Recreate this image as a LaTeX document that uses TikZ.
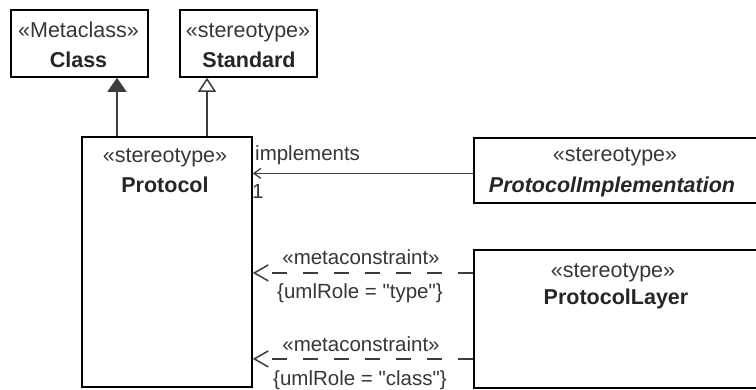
\documentclass[tikz,border=0pt]{standalone}
\usepackage{fontspec}
\setmainfont{Liberation Sans}[Ligatures=TeXOff]
\usetikzlibrary{arrows.meta}
\definecolor{stc}{RGB}{55,55,55}
\definecolor{lnc}{RGB}{60,60,60}
\begin{document}
\begin{tikzpicture}[x=1pt,y=-1pt,
  box/.style={draw=black, line width=1.8pt, fill=white, inner sep=0pt, anchor=north west},
  st/.style={anchor=base, text=stc, font=\fontsize{21.5}{25}\selectfont, inner sep=0pt},
  nm/.style={anchor=base, text=black!85, font=\fontsize{21.5}{25}\selectfont\bfseries, inner sep=0pt},
  lbl/.style={anchor=base, text=stc, font=\fontsize{20.5}{24}\selectfont, inner sep=0pt},
  conn/.style={draw=lnc, line width=1.5pt},
  genfill/.style={conn, -{Triangle[width=19pt,length=14pt,fill=lnc]}},
  genopen/.style={conn, -{Triangle[open,width=18pt,length=14pt,fill=white]}},
  assoc/.style={conn, line width=1.3pt, -{Straight Barb[length=7pt,width=10pt]}},
  metac/.style={conn, line width=1.5pt, dash pattern=on 15pt off 16pt, -{Straight Barb[length=14pt,width=16pt]}}
]
\fill[white] (0,0) rectangle (756,389);
\useasboundingbox (0,0) rectangle (756,389);
\clip (0,0) rectangle (756,389);

% boxes
\node[box, minimum width=137pt, minimum height=67pt] (class) at (10,9) {};
\node[box, minimum width=137pt, minimum height=67pt] (standard) at (179,9) {};
\node[box, minimum width=170pt, minimum height=250pt] (protocol) at (81,136) {};
\node[box, minimum width=300pt, minimum height=65pt] (impl) at (473,137) {};
\node[box, minimum width=300pt, minimum height=138pt] (layer) at (473,249) {};

% box texts
\node[st] (classst) at (78.5,37) {«Metaclass»};
\node[nm] (classnm) at (78.5,67) {Class};
\node[st] (standardst) at (248,37) {«stereotype»};
\node[nm] (standardnm) at (249,67) {Standard};
\node[st] (protocolst) at (165,162) {«stereotype»};
\node[nm] (protocolnm) at (165,192) {Protocol};
\node[st] (implst) at (615,161) {«stereotype»};
\node[nm, font=\fontsize{21.5}{25}\selectfont\bfseries\itshape] (implnm) at (612,192) {ProtocolImplementation};
\node[st] (layerst) at (613,277) {«stereotype»};
\node[nm] (layernm) at (616,304) {ProtocolLayer};

% generalizations
\coordinate (g1) at (117,136);
\coordinate (g2) at (207,136);
\draw[genfill] (g1) -- (g1 |- class.south);
\draw[genopen] (g2) -- (g2 |- standard.south);

% association
\draw[assoc] ([yshift=-3pt]impl.west) -- ([yshift=-3pt]impl.west -| protocol.east);
\node[lbl, anchor=base west] (implslbl) at (255,160) {implements};
\node[lbl, anchor=base west] (multlbl) at (252,198) {1};

% metaconstraints
\draw[metac] ([yshift=46pt]layer.west) -- ([yshift=46pt]layer.west -| protocol.east);
\draw[metac] ([yshift=-40pt]layer.west) -- ([yshift=-40pt]layer.west -| protocol.east);
\node[lbl] (mc1) at (361,264) {«metaconstraint»};
\node[lbl] (ur1) at (360,298) {\{umlRole = "type"\}};
\node[lbl] (mc2) at (361,351) {«metaconstraint»};
\node[lbl] (ur2) at (360,385) {\{umlRole = "class"\}};
\end{tikzpicture}
\end{document}
